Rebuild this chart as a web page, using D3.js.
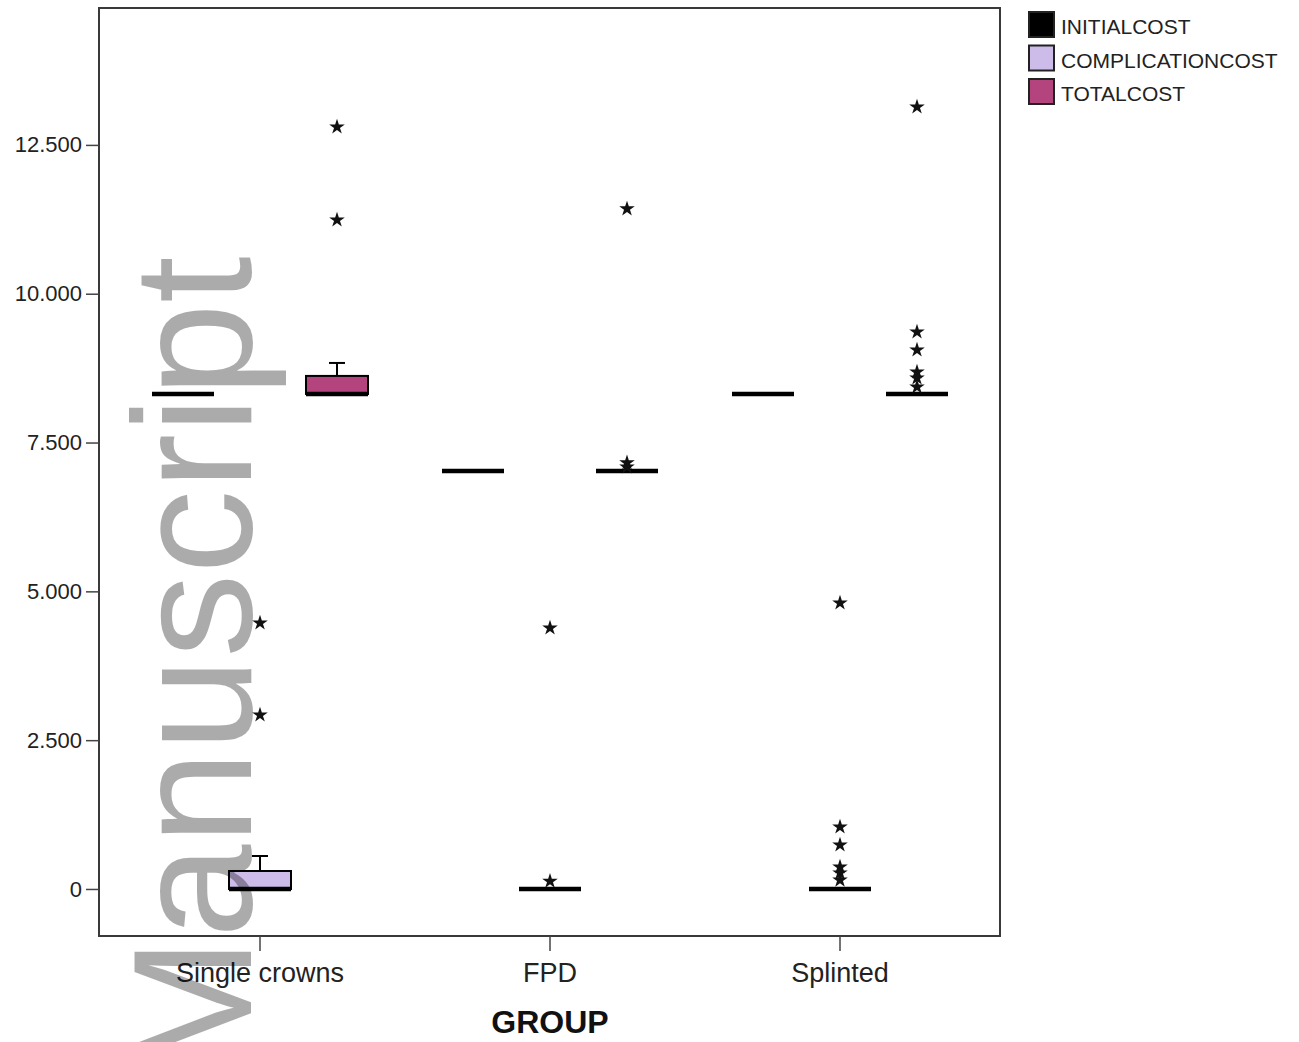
<!DOCTYPE html>
<html lang="en">
<head>
<meta charset="UTF-8">
<title>Cost by group</title>
<script src="https://cdnjs.cloudflare.com/ajax/libs/d3/7.8.5/d3.min.js"></script>
<style>
    body { margin: 0; background: #fff; }
    svg { display: block; font-family: "Liberation Sans", Arial, sans-serif; }
</style>
</head>
<body>
<svg id="chart" width="1299" height="1042"></svg>
<script>
// categories and series
const groups = ["Single crowns", "FPD", "Splinted"]
const series = ["INITIALCOST", "COMPLICATIONCOST", "TOTALCOST"]
const seriesColors = ["#000000", "#cdbbe9", "#b4447e"]
const yTicks = [0, 2500, 5000, 7500, 10000, 12500]

// box stats per group: [min, q1, median, q3, max]
const initialStats = [
    [8316, 8316, 8316, 8316, 8316],
    [7023, 7023, 7023, 7023, 7023],
    [8316, 8316, 8316, 8316, 8316]
]
const complicationStats = [
    [0, 0, 0, 302, 554],
    [0, 0, 0, 0, 0],
    [0, 0, 0, 0, 0]
]
const totalStats = [
    [8316, 8316, 8316, 8619, 8837],
    [7023, 7023, 7023, 7023, 7023],
    [8316, 8316, 8316, 8316, 8316]
]

// extreme values (stars) per group
const initialOutliers = [[], [], []]
const complicationOutliers = [
    [4469, 2923],
    [4385, 130],
    [4805, 1042, 740, 370, 270, 150]
]
const totalOutliers = [
    [12802, 11240],
    [11425, 7160, 7090],
    [13138, 9358, 9056, 8686, 8585, 8434]
]

const allStats = [initialStats, complicationStats, totalStats]
const allOutliers = [initialOutliers, complicationOutliers, totalOutliers]

const svg = d3.select('#chart')
const plot = { left: 99, top: 8, right: 1000, bottom: 936 }

const x = d3.scaleBand().domain(groups).range([115, 985])
const xSub = d3.scaleBand().domain(series).range([-115.5, 115.5])
const y = d3.scaleLinear().domain([-790, 14800]).range([plot.bottom, plot.top])
const boxW = 62

const fmt = d3.formatLocale({ decimal: ",", thousands: ".", grouping: [3], currency: ["", ""] }).format(",")

// frame
svg.append('rect')
    .attr('x', plot.left).attr('y', plot.top)
    .attr('width', plot.right - plot.left).attr('height', plot.bottom - plot.top)
    .attr('fill', '#fff').attr('stroke', '#3a3a3a').attr('stroke-width', 2)

// y axis
const yAxis = svg.append('g')
    .attr('transform', `translate(${plot.left},0)`)
    .call(d3.axisLeft(y).tickValues(yTicks).tickFormat(fmt).tickSize(13).tickPadding(4))
yAxis.select('.domain').remove()
yAxis.selectAll('line').attr('stroke', '#444').attr('stroke-width', 1.5)
yAxis.selectAll('text').attr('font-size', 22).attr('fill', '#222')
    .attr('font-family', '"Liberation Sans", Arial, sans-serif')

// x axis
const xAxis = svg.append('g')
    .attr('transform', `translate(0,${plot.bottom})`)
    .call(d3.axisBottom(x).tickSize(15).tickPadding(12))
xAxis.select('.domain').remove()
xAxis.selectAll('line').attr('stroke', '#444').attr('stroke-width', 1.5)
xAxis.selectAll('text').attr('font-size', 27).attr('fill', '#222')
    .attr('font-family', '"Liberation Sans", Arial, sans-serif')

svg.append('text')
    .attr('x', 550).attr('y', 1033)
    .attr('text-anchor', 'middle')
    .attr('font-size', 32).attr('font-weight', 'bold').attr('fill', '#111')
    .text('GROUP')

// boxes
series.forEach((s, si) => {
    groups.forEach((g, gi) => {
        const st = allStats[si][gi]
        const cx = x(g) + x.bandwidth() / 2 + xSub(s) + xSub.bandwidth() / 2
        const el = svg.append('g')

        // whiskers
        if (st[4] > st[3]) {
            el.append('line').attr('x1', cx).attr('x2', cx)
                .attr('y1', y(st[3])).attr('y2', y(st[4]))
                .attr('stroke', '#000').attr('stroke-width', 2)
            el.append('line').attr('x1', cx - 8).attr('x2', cx + 8)
                .attr('y1', y(st[4])).attr('y2', y(st[4]))
                .attr('stroke', '#000').attr('stroke-width', 2)
        }
        if (st[0] < st[1]) {
            el.append('line').attr('x1', cx).attr('x2', cx)
                .attr('y1', y(st[1])).attr('y2', y(st[0]))
                .attr('stroke', '#000').attr('stroke-width', 2)
            el.append('line').attr('x1', cx - 8).attr('x2', cx + 8)
                .attr('y1', y(st[0])).attr('y2', y(st[0]))
                .attr('stroke', '#000').attr('stroke-width', 2)
        }

        el.append('rect')
            .attr('x', cx - boxW / 2).attr('y', y(st[3]))
            .attr('width', boxW).attr('height', y(st[1]) - y(st[3]))
            .attr('fill', seriesColors[si]).attr('stroke', '#000').attr('stroke-width', 2)

        el.append('line')
            .attr('x1', cx - boxW / 2).attr('x2', cx + boxW / 2)
            .attr('y1', y(st[2])).attr('y2', y(st[2]))
            .attr('stroke', '#000').attr('stroke-width', 4.5)

        // stars
        el.selectAll('path.star').data(allOutliers[si][gi]).enter()
            .append('path')
            .attr('class', 'star')
            .attr('d', d3.symbol(d3.symbolStar, 75))
            .attr('transform', d => `translate(${cx},${y(d)})`)
            .attr('fill', '#111')
    })
})

// legend
const legend = svg.append('g').attr('transform', 'translate(1028,11)')
series.forEach((s, i) => {
    const row = legend.append('g').attr('transform', `translate(0,${i * 33.5})`)
    row.append('rect').attr('x', 1).attr('y', 1).attr('width', 25).attr('height', 25)
        .attr('fill', seriesColors[i]).attr('stroke', '#222').attr('stroke-width', 2)
    row.append('text').attr('x', 33).attr('y', 23)
        .attr('font-size', 21).attr('fill', '#222').text(s)
})

// watermark
svg.append('text')
    .attr('transform', 'translate(251,1078) rotate(-90)')
    .attr('font-size', 168)
    .attr('fill', '#000').attr('fill-opacity', 0.33)
    .text('Manuscript')
</script>
</body>
</html>
